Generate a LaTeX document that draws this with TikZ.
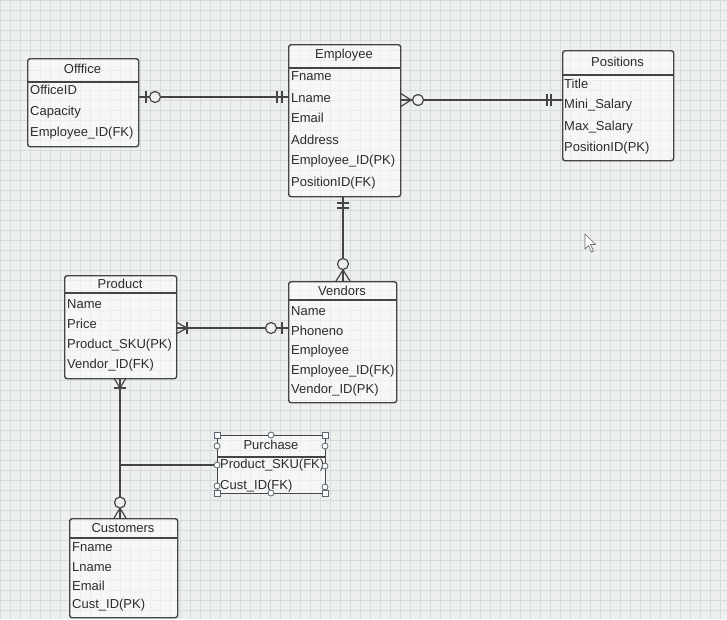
\documentclass[tikz,border=0pt]{standalone}
\usepackage{fontspec}
\setmainfont{Liberation Sans}
\definecolor{bg}{HTML}{EDF0EF}
\definecolor{ln}{HTML}{444444}
\definecolor{tx}{HTML}{2B2B2B}
\definecolor{grd}{HTML}{D6DBDB}
\definecolor{hdl}{HTML}{5A6470}
\begin{document}
\begin{tikzpicture}[x=1pt,y=-1pt,
  tbl/.style={draw=ln, line width=1.4pt, rounded corners=2.5pt, fill=white, fill opacity=0.55, anchor=north west, inner sep=0pt},
  row/.style={anchor=west, text=tx, font=\fontsize{13}{15}\selectfont, inner sep=0pt},
  ttl/.style={text=tx, font=\fontsize{13}{15}\selectfont, inner sep=0pt},
  conn/.style={draw=ln, line width=1.2pt},
  ring/.style={draw=ln, line width=1.2pt, fill=bg},
  hsq/.style={draw=hdl, line width=0.8pt, fill=white, minimum size=6pt, inner sep=0pt},
  hci/.style={draw=hdl, line width=0.8pt, fill=white, circle, minimum size=6pt, inner sep=0pt}]
\useasboundingbox (0,0) rectangle (727,619);
\fill[bg] (0,0) rectangle (727,619);
\foreach \i in {0,10,...,720} \draw[grd, line width=0.5pt] (\i,0) -- (\i,619);
\foreach \j in {0,10,...,610} \draw[grd, line width=0.5pt] (0,\j) -- (727,\j);

% ---------- Office ----------
\node[tbl, minimum width=111pt, minimum height=88pt] (office) at (27,58) {};
\draw[conn] (27,82) -- (138,82);
\node[ttl] (officeT) at (82.5,69) {Offfice};
\node[row] (officeA) at (30,90) {OfficeID};
\node[row] (officeB) at (30,112) {Capacity};
\node[row] (officeC) at (30,133) {Employee\_ID(FK)};

% ---------- Employee ----------
\node[tbl, minimum width=112pt, minimum height=152pt] (emp) at (288,44) {};
\draw[conn] (288,68) -- (400,68);
\node[ttl] (empT) at (344,55) {Employee};
\node[row] (empA) at (291,76) {Fname};
\node[row] (empB) at (291,98) {Lname};
\node[row] (empC) at (291,118) {Email};
\node[row] (empD) at (291,140) {Address};
\node[row] (empE) at (291,161) {Employee\_ID(PK)};
\node[row] (empF) at (291,183) {PositionID(FK)};

% ---------- Positions ----------
\node[tbl, minimum width=111pt, minimum height=110pt] (pos) at (562,50) {};
\draw[conn] (562,75) -- (673,75);
\node[ttl] (posT) at (617.5,62) {Positions};
\node[row] (posA) at (564,84) {Title};
\node[row] (posB) at (564,105) {Mini\_Salary};
\node[row] (posC) at (564,127) {Max\_Salary};
\node[row] (posD) at (564,148) {PositionID(PK)};

% ---------- Product ----------
\node[tbl, minimum width=112pt, minimum height=103pt] (prod) at (64,275) {};
\draw[conn] (64,293) -- (176,293);
\node[ttl] (prodT) at (120,284) {Product};
\node[row] (prodA) at (67,304) {Name};
\node[row] (prodB) at (67,324) {Price};
\node[row] (prodC) at (67,345) {Product\_SKU(PK)};
\node[row] (prodD) at (67,365) {Vendor\_ID(FK)};

% ---------- Vendors ----------
\node[tbl, minimum width=108pt, minimum height=121pt] (ven) at (288,281) {};
\draw[conn] (288,300) -- (396,300);
\node[ttl] (venT) at (342,291) {Vendors};
\node[row] (venA) at (291,311) {Name};
\node[row] (venB) at (291,331) {Phoneno};
\node[row] (venC) at (291,351) {Employee};
\node[row] (venD) at (291,371) {Employee\_ID(FK)};
\node[row] (venE) at (291,390) {Vendor\_ID(PK)};

% ---------- Purchase ----------
\node[tbl, rounded corners=0pt, minimum width=108pt, minimum height=58pt] (pur) at (217,435) {};
\draw[conn] (217,457) -- (325,457);
\node[ttl] (purT) at (271,445) {Purchase};
\node[row] (purA) at (220,465) {Product\_SKU(FK)};
\node[row] (purB) at (220,486) {Cust\_ID(FK)};
\node[hsq] (h1) at (217,435) {};
\node[hsq] (h2) at (325,435) {};
\node[hsq] (h3) at (217,493) {};
\node[hsq] (h4) at (325,493) {};
\node[hci] (h5) at (271,435) {};
\node[hci] (h6) at (271,493) {};
\node[hci] (h7) at (217,446) {};
\node[hci] (h8) at (325,446) {};
\node[hci] (h9) at (217,465) {};
\node[hci] (h10) at (325,466) {};
\node[hci] (h11) at (217,486) {};
\node[hci] (h12) at (325,487) {};

% ---------- Customers ----------
\node[tbl, minimum width=108pt, minimum height=99pt] (cus) at (69,518) {};
\draw[conn] (69,538) -- (177,538);
\node[ttl] (cusT) at (123,528) {Customers};
\node[row] (cusA) at (72,547) {Fname};
\node[row] (cusB) at (72,567) {Lname};
\node[row] (cusC) at (72,586) {Email};
\node[row] (cusD) at (72,605) {Cust\_ID(PK)};

% ---------- connector end points ----------
\coordinate (offE) at (138,97);
\coordinate (empW) at (288,97);
\coordinate (empE) at (400,100);
\coordinate (posW) at (562,100);
\coordinate (empS) at (343,196);
\coordinate (venN) at (343,281);
\coordinate (prodE) at (176,328);
\coordinate (venW) at (288,328);
\coordinate (prodS) at (120,378);
\coordinate (cusN) at (120,518);
\coordinate (junc) at (120,465);

% Office -- Employee (zero-or-one  to  one)
\draw[conn] (offE) -- (empW);
\draw[conn] ([xshift=8pt,yshift=-6pt]offE) -- ([xshift=8pt,yshift=6pt]offE);
\draw[ring] ([xshift=17pt]offE) circle[radius=5.5pt];
\draw[conn] ([xshift=-11pt,yshift=-6pt]empW) -- ([xshift=-11pt,yshift=6pt]empW);
\draw[conn] ([xshift=-6pt,yshift=-6pt]empW) -- ([xshift=-6pt,yshift=6pt]empW);

% Employee -- Positions (zero-or-many  to  one)
\draw[conn] (empE) -- (posW);
\draw[conn] ([yshift=-7pt]empE) -- ([xshift=11pt]empE) -- ([yshift=7pt]empE);
\draw[ring] ([xshift=18pt]empE) circle[radius=5.5pt];
\draw[conn] ([xshift=-15pt,yshift=-6pt]posW) -- ([xshift=-15pt,yshift=6pt]posW);
\draw[conn] ([xshift=-11pt,yshift=-6pt]posW) -- ([xshift=-11pt,yshift=6pt]posW);

% Employee -- Vendors (one  to  zero-or-many)
\draw[conn] (empS) -- (venN);
\draw[conn] ([xshift=-6pt,yshift=-7pt]empS) -- ([xshift=6pt,yshift=-7pt]empS);
\draw[conn] ([xshift=-6pt,yshift=-12pt]empS) -- ([xshift=6pt,yshift=-12pt]empS);
\draw[conn] ([xshift=-7pt]venN) -- ([yshift=11pt]venN) -- ([xshift=7pt]venN);
\draw[ring] ([yshift=17pt]venN) circle[radius=5.5pt];

% Product -- Vendors (one-or-many  to  zero-or-one)
\draw[conn] (prodE) -- (venW);
\draw[conn] ([yshift=-6pt]prodE) -- ([xshift=11pt]prodE) -- ([yshift=6pt]prodE);
\draw[conn] ([xshift=11pt,yshift=-6pt]prodE) -- ([xshift=11pt,yshift=6pt]prodE);
\draw[ring] ([xshift=-17pt]venW) circle[radius=5.5pt];
\draw[conn] ([xshift=-6pt,yshift=-6pt]venW) -- ([xshift=-6pt,yshift=6pt]venW);

% Product -- Customers (one-or-many  to  zero-or-many)
\draw[conn] (prodS) -- (cusN);
\draw[conn] ([xshift=-6pt]prodS) -- ([yshift=-10pt]prodS) -- ([xshift=6pt]prodS);
\draw[conn] ([xshift=-6pt,yshift=-10pt]prodS) -- ([xshift=6pt,yshift=-10pt]prodS);
\draw[conn] ([xshift=-6pt]cusN) -- ([yshift=10pt]cusN) -- ([xshift=6pt]cusN);
\draw[ring] ([yshift=15.5pt]cusN) circle[radius=5.5pt];

% branch to Purchase
\draw[conn] (junc) -- (h9);

% mouse cursor
\draw[draw=ln!80, fill=white, line width=0.7pt, line join=round]
  (585,234) -- (585,249) -- (588.5,245.5) -- (591.5,252) -- (593.5,251) -- (590.5,244.5) -- (595.5,244.5) -- cycle;
\end{tikzpicture}
\end{document}
